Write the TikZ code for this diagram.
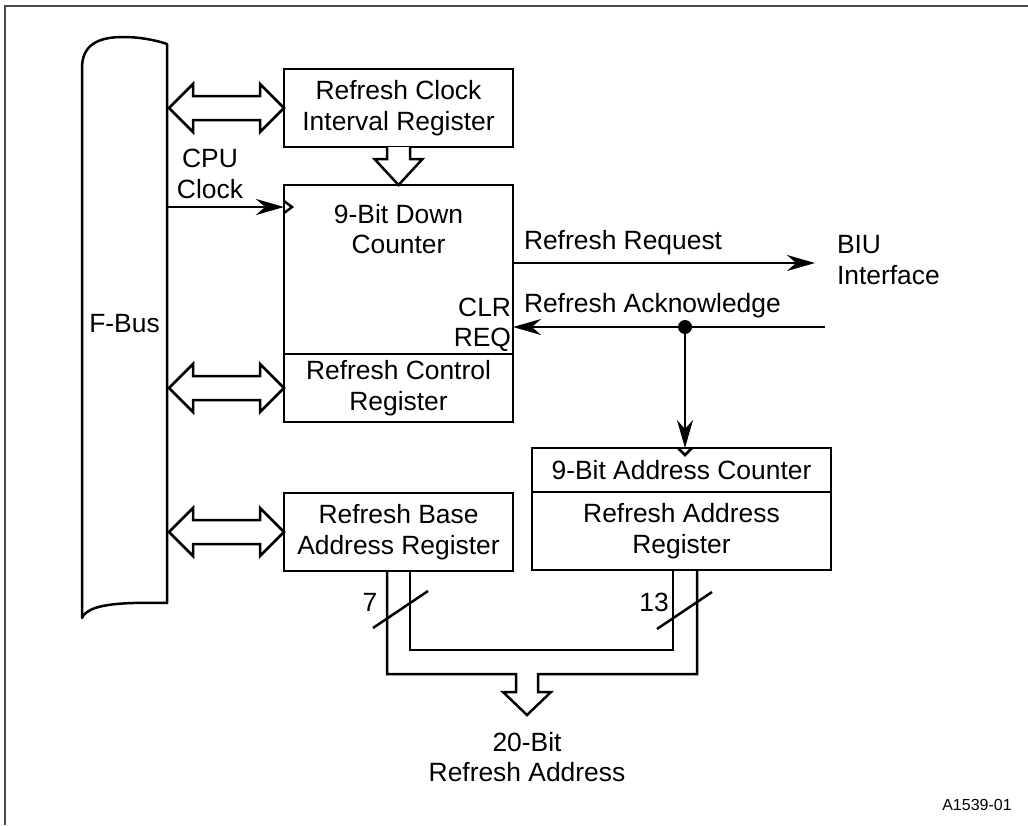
\documentclass[tikz,border=0pt]{standalone}
\usepackage{fontspec}
\setmainfont{Liberation Sans}
\usetikzlibrary{arrows.meta,positioning,calc}
\definecolor{ink}{HTML}{000000}
\definecolor{rule}{HTML}{4a4a4a}

% hollow two-headed bus arrow from the F-Bus to a register
\newcommand{\busarrow}[2]{%
  \draw[bus] let \p1=(#1.east), \p2=(#2.west) in
    (\x1+2pt,\y2) -- ++(24pt,24pt) -- ++(0pt,-12pt) -- (\x2-24pt,\y2+12pt)
    -- ++(0pt,12pt) -- (\p2) -- ++(-24pt,-24pt) -- ++(0pt,12pt)
    -- (\x1+26pt,\y2-12pt) -- ++(0pt,-12pt) -- cycle;}

\begin{document}
\begin{tikzpicture}[x=1pt,y=-1pt,font=\fontsize{26.4}{30.5}\selectfont,
  box/.style={draw=ink,line width=2.5pt,minimum width=229pt,inner sep=0pt,outer sep=0pt,align=center},
  bus/.style={draw=ink,line width=2.5pt,fill=white},
  sig/.style={draw=ink,line width=2.5pt,-{Stealth[length=28pt,width=16pt,inset=9pt]}},
  lbl/.style={align=center,inner sep=0pt,outer sep=0pt},
  dot/.style={circle,fill=ink,inner sep=0pt,minimum size=14pt}]
  \useasboundingbox (0,0) rectangle (1028,825);
  \draw[rule,line width=2pt] (1028,6) -- (5,6) -- (5,825);

  % F-Bus
  \node[lbl,minimum width=85pt,minimum height=559pt] (fbus) at (124.5,323.5) {F-Bus};
  \draw[line width=2.5pt,line join=round] (167,603) .. controls (120,602) and (88,604) .. (82,618)
    -- (82,68) .. controls (82,45) and (98,37) .. (123,37)
    .. controls (140,37) and (155,40) .. (167,44) -- cycle;

  % registers
  \node[box,minimum height=78pt] (intreg) at (398.5,108) {Refresh Clock\\Interval Register};
  \node[box,minimum height=169pt] (counter) at (398.5,269.5) {};
  \node[box,minimum height=68pt,anchor=north] (ctrlreg) at (counter.south) {Refresh Control\\Register};
  \node[box,minimum height=78pt] (basereg) at (398.5,532) {Refresh Base\\Address Register};
  \node[box,minimum width=299pt,minimum height=44pt] (addrcnt) at (681.5,470) {9-Bit Address Counter};
  \node[box,minimum width=299pt,minimum height=78pt,anchor=north] (addrreg) at (addrcnt.south) {Refresh Address\\Register};
  \node[lbl] (cntlbl) at (398.5,229) {9-Bit Down\\Counter};
  \node[lbl,anchor=east,align=right] (clrreq) at (511,325) {CLR\\REQ};

  % bus arrows
  \busarrow{fbus}{intreg}
  \busarrow{fbus}{ctrlreg}
  \busarrow{fbus}{basereg}
  \draw[bus] let \p1=(intreg.south), \p2=(counter.north) in
    (\x1-11.5pt,\y1) -- (\x1-11.5pt,\y2+26pt) -- (\x1-24pt,\y2+26pt) -- (\p2)
    -- (\x1+24pt,\y2+26pt) -- (\x1+11.5pt,\y2+26pt) -- (\x1+11.5pt,\y1);

  % clock input
  \coordinate[below=22pt of counter.north west] (clk);
  \draw[sig] (fbus.east |- clk) -- (clk);
  \draw[line width=2.5pt] ([yshift=6pt]clk) -- ++(8pt,-6pt) -- ++(-8pt,-6pt);
  \node[lbl] (cpulbl) at (210,174) {CPU\\Clock};

  % refresh request / acknowledge
  \coordinate (rqend) at (815,263);
  \draw[sig] (counter.east |- rqend) -- (rqend);
  \node[lbl,anchor=west] (rqlbl) at (524,243) {Refresh Request};
  \node[lbl,anchor=west,align=left] (biu) at (837,260) {BIU\\Interface};
  \coordinate (ackin) at (825,327);
  \node[dot] (ackdot) at (685,327) {};
  \draw[sig] (ackin) -- (counter.east |- ackin);
  \draw[sig] (ackdot) -- (ackdot |- addrcnt.north);
  \draw[line width=2.5pt] ([xshift=-7pt]ackdot |- addrcnt.north) -- ++(7pt,-7pt) -- ++(7pt,7pt);
  \node[lbl,anchor=west] (acklbl) at (524,306) {Refresh Acknowledge};

  % 20-bit output bus
  \coordinate (outtip) at (527,715);
  \draw[bus,fill=none] let \p1=(basereg.south), \p2=(addrreg.south), \p3=(outtip) in
    (\x1-11.5pt,\y1) |- (\x3-11pt,\y3+41pt) -- (\x3-11pt,\y3+23pt) -- (\x3-24pt,\y3+23pt)
    -- (\p3) -- (\x3+24pt,\y3+23pt) -- (\x3+11pt,\y3+23pt) -- (\x3+11pt,\y3+41pt)
    -| (\x2+15.5pt,\y2);
  \draw[bus,fill=none] let \p1=(basereg.south), \p2=(addrreg.south), \p3=(outtip) in
    (\x1+11.5pt,\y1) |- (\x3,\y3+65pt) -| (\x2-8.5pt,\y2);
  \draw[line width=2.5pt] (373,628) -- (428,591);
  \node[lbl] (w7) at (370,602) {7};
  \draw[line width=2.5pt] (657,629) -- (712,592);
  \node[lbl] (w13) at (654,602) {13};
  \node[lbl] (outlbl) at (527,757) {20-Bit\\Refresh Address};

  \node[lbl,font=\fontsize{16}{18}\selectfont] (figid) at (977,805) {A1539-01};
\end{tikzpicture}
\end{document}
